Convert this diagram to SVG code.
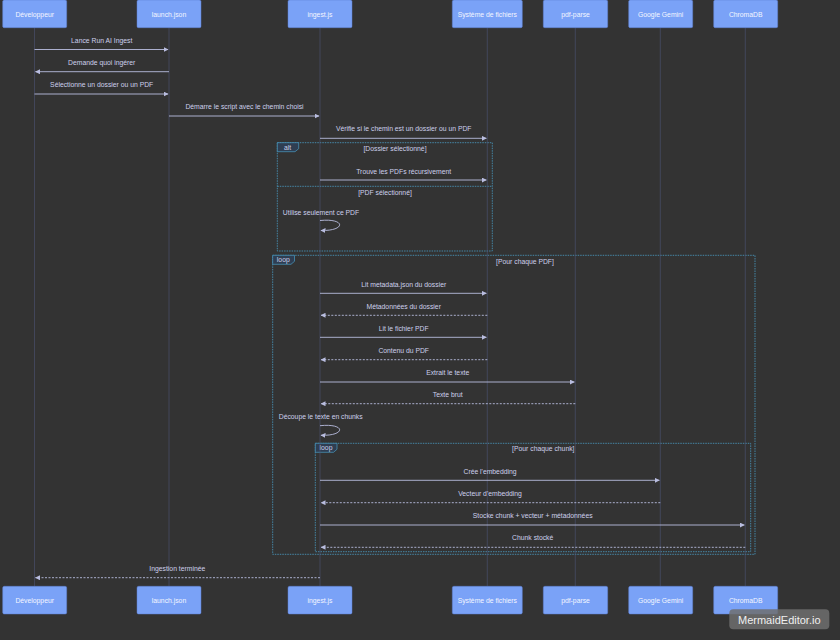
<svg xmlns="http://www.w3.org/2000/svg" width="840" height="640" viewBox="0 0 840 640">
<style>
.bg{fill:#333333}
.actor rect{fill:#7aa2f7;stroke:#5f7fd0;stroke-width:0.5}
.actor text{fill:#f4f6ff;font-family:"Liberation Sans",Arial,sans-serif;font-size:6.8px;text-anchor:middle;dominant-baseline:central}
.life{stroke:#4d5475;stroke-width:0.6}
.msg{stroke:#b9bde0;stroke-width:0.9;fill:none}
.dash{stroke-dasharray:2,1.5}
.lbl{fill:#cdd0ec;font-family:"Liberation Sans",Arial,sans-serif;font-size:6.8px;text-anchor:middle;dominant-baseline:central}
.frame{fill:none;stroke:#4a9cc4;stroke-width:0.8;stroke-dasharray:1.5,1}
.fbox{fill:#2f3e52;stroke:#4a9cc4;stroke-width:0.7}
.ftxt{fill:#cdd0ec;font-family:"Liberation Sans",Arial,sans-serif;font-size:6.8px;text-anchor:middle;dominant-baseline:central}
</style>
<defs>
<marker id="ah" viewBox="0 0 10 10" refX="9" refY="5" markerWidth="5" markerHeight="5" orient="auto-start-reverse" markerUnits="userSpaceOnUse">
<path d="M0,0 L10,5 L0,10 z" fill="#b9bde0"/>
</marker>
</defs>
<rect class="bg" x="0" y="0" width="840" height="640"/>

<g id="frames">
<rect class="frame" x="277.3" y="142.7" width="215" height="108.3"/>
<line class="frame" x1="277.3" y1="186.3" x2="492.3" y2="186.3"/>
<polygon class="fbox" points="277.3,142.7 298.7,142.7 298.7,148.7 295,151.7 277.3,151.7"/>
<text class="ftxt" x="287.5" y="147.3">alt</text>
<text class="ftxt" x="395" y="148">[Dossier sélectionné]</text>
<text class="ftxt" x="385" y="192">[PDF sélectionné]</text>

<rect class="frame" x="272.7" y="255.3" width="482.3" height="299"/>
<polygon class="fbox" points="272.7,255.3 294.5,255.3 294.5,261.3 291,264.3 272.7,264.3"/>
<text class="ftxt" x="283.3" y="259.8">loop</text>
<text class="ftxt" x="525" y="261">[Pour chaque PDF]</text>

<rect class="frame" x="315.3" y="443.3" width="435.4" height="108.4"/>
<polygon class="fbox" points="315.3,443.3 337,443.3 337,449.3 333.5,452.3 315.3,452.3"/>
<text class="ftxt" x="326" y="447.8">loop</text>
<text class="ftxt" x="543.3" y="448">[Pour chaque chunk]</text>
</g>

<g id="actor-dev" class="actor">
<line class="life" x1="34.5" y1="27.7" x2="34.5" y2="586.3"/>
<rect x="2.7" y="0" width="64" height="27.7" rx="1.5"/>
<text x="34.7" y="14">Développeur</text>
<rect x="2.7" y="586.3" width="64" height="27.7" rx="1.5"/>
<text x="34.7" y="600.2">Développeur</text>
</g>
<g id="actor-launch" class="actor">
<line class="life" x1="169" y1="27.7" x2="169" y2="586.3"/>
<rect x="137" y="0" width="64" height="27.7" rx="1.5"/>
<text x="169" y="14">launch.json</text>
<rect x="137" y="586.3" width="64" height="27.7" rx="1.5"/>
<text x="169" y="600.2">launch.json</text>
</g>
<g id="actor-ingest" class="actor">
<line class="life" x1="320" y1="27.7" x2="320" y2="586.3"/>
<rect x="288" y="0" width="64" height="27.7" rx="1.5"/>
<text x="320" y="14">ingest.js</text>
<rect x="288" y="586.3" width="64" height="27.7" rx="1.5"/>
<text x="320" y="600.2">ingest.js</text>
</g>
<g id="actor-fs" class="actor">
<line class="life" x1="487.3" y1="27.7" x2="487.3" y2="586.3"/>
<rect x="452.3" y="0" width="70" height="27.7" rx="1.5"/>
<text x="487.3" y="14">Système de fichiers</text>
<rect x="452.3" y="586.3" width="70" height="27.7" rx="1.5"/>
<text x="487.3" y="600.2">Système de fichiers</text>
</g>
<g id="actor-pdf" class="actor">
<line class="life" x1="575.3" y1="27.7" x2="575.3" y2="586.3"/>
<rect x="543.3" y="0" width="64.4" height="27.7" rx="1.5"/>
<text x="575.5" y="14">pdf-parse</text>
<rect x="543.3" y="586.3" width="64.4" height="27.7" rx="1.5"/>
<text x="575.5" y="600.2">pdf-parse</text>
</g>
<g id="actor-gemini" class="actor">
<line class="life" x1="660.3" y1="27.7" x2="660.3" y2="586.3"/>
<rect x="628.7" y="0" width="64" height="27.7" rx="1.5"/>
<text x="660.7" y="14">Google Gemini</text>
<rect x="628.7" y="586.3" width="64" height="27.7" rx="1.5"/>
<text x="660.7" y="600.2">Google Gemini</text>
</g>
<g id="actor-chroma" class="actor">
<line class="life" x1="745.3" y1="27.7" x2="745.3" y2="586.3"/>
<rect x="713.7" y="0" width="64" height="27.7" rx="1.5"/>
<text x="745.7" y="14">ChromaDB</text>
<rect x="713.7" y="586.3" width="64" height="27.7" rx="1.5"/>
<text x="745.7" y="600.2">ChromaDB</text>
</g>

<g id="connectors">
<text class="lbl" x="101.7" y="40.3">Lance Run AI Ingest</text>
<line class="msg" x1="34.5" y1="49.5" x2="168" y2="49.5" marker-end="url(#ah)"/>
<text class="lbl" x="101.7" y="62.3">Demande quoi ingérer</text>
<line class="msg" x1="169" y1="71.7" x2="35.5" y2="71.7" marker-end="url(#ah)"/>
<text class="lbl" x="101.7" y="84.3">Sélectionne un dossier ou un PDF</text>
<line class="msg" x1="34.5" y1="94" x2="168" y2="94" marker-end="url(#ah)"/>
<text class="lbl" x="244.5" y="106.3">Démarre le script avec le chemin choisi</text>
<line class="msg" x1="169" y1="116" x2="319" y2="116" marker-end="url(#ah)"/>
<text class="lbl" x="403.7" y="128.5">Vérifie si le chemin est un dossier ou un PDF</text>
<line class="msg" x1="320" y1="138.3" x2="486.3" y2="138.3" marker-end="url(#ah)"/>

<text class="lbl" x="403.7" y="171">Trouve les PDFs récursivement</text>
<line class="msg" x1="320" y1="180" x2="486.3" y2="180" marker-end="url(#ah)"/>

<text class="lbl" x="321" y="212.3">Utilise seulement ce PDF</text>
<path class="msg" d="M320,220.5 C346,218 346,231 321,230.5" marker-end="url(#ah)"/>

<text class="lbl" x="403.7" y="284">Lit metadata.json du dossier</text>
<line class="msg" x1="320" y1="293.3" x2="486.3" y2="293.3" marker-end="url(#ah)"/>
<text class="lbl" x="403.7" y="306">Métadonnées du dossier</text>
<line class="msg dash" x1="487.3" y1="315.3" x2="321" y2="315.3" marker-end="url(#ah)"/>
<text class="lbl" x="403.7" y="328">Lit le fichier PDF</text>
<line class="msg" x1="320" y1="337.3" x2="486.3" y2="337.3" marker-end="url(#ah)"/>
<text class="lbl" x="403.7" y="350.3">Contenu du PDF</text>
<line class="msg dash" x1="487.3" y1="359.7" x2="321" y2="359.7" marker-end="url(#ah)"/>
<text class="lbl" x="447.7" y="372.5">Extrait le texte</text>
<line class="msg" x1="320" y1="382" x2="574.3" y2="382" marker-end="url(#ah)"/>
<text class="lbl" x="447.7" y="394.3">Texte brut</text>
<line class="msg dash" x1="575.3" y1="403.7" x2="321" y2="403.7" marker-end="url(#ah)"/>

<text class="lbl" x="320.7" y="416.7">Découpe le texte en chunks</text>
<path class="msg" d="M320,425.7 C346,423 346,436 321,435.3" marker-end="url(#ah)"/>

<text class="lbl" x="490" y="471">Crée l'embedding</text>
<line class="msg" x1="320" y1="480.3" x2="659.3" y2="480.3" marker-end="url(#ah)"/>
<text class="lbl" x="490" y="493.3">Vecteur d'embedding</text>
<line class="msg dash" x1="660.3" y1="502.7" x2="321" y2="502.7" marker-end="url(#ah)"/>
<text class="lbl" x="532.7" y="515.5">Stocke chunk + vecteur + métadonnées</text>
<line class="msg" x1="320" y1="525" x2="744.3" y2="525" marker-end="url(#ah)"/>
<text class="lbl" x="532.7" y="537.3">Chunk stocké</text>
<line class="msg dash" x1="745.3" y1="547.3" x2="321" y2="547.3" marker-end="url(#ah)"/>

<text class="lbl" x="177.3" y="568.3">Ingestion terminée</text>
<line class="msg dash" x1="320" y1="577.7" x2="35.5" y2="577.7" marker-end="url(#ah)"/>
</g>

<g id="watermark">
<rect x="729.3" y="609.3" width="100" height="20" rx="4" fill="#6e6e6e" fill-opacity="0.85"/>
<text x="779.3" y="619.6" fill="#f0f0f0" font-family="'Liberation Sans',Arial,sans-serif" font-size="11" text-anchor="middle" dominant-baseline="central">MermaidEditor.io</text>
</g>
</svg>
